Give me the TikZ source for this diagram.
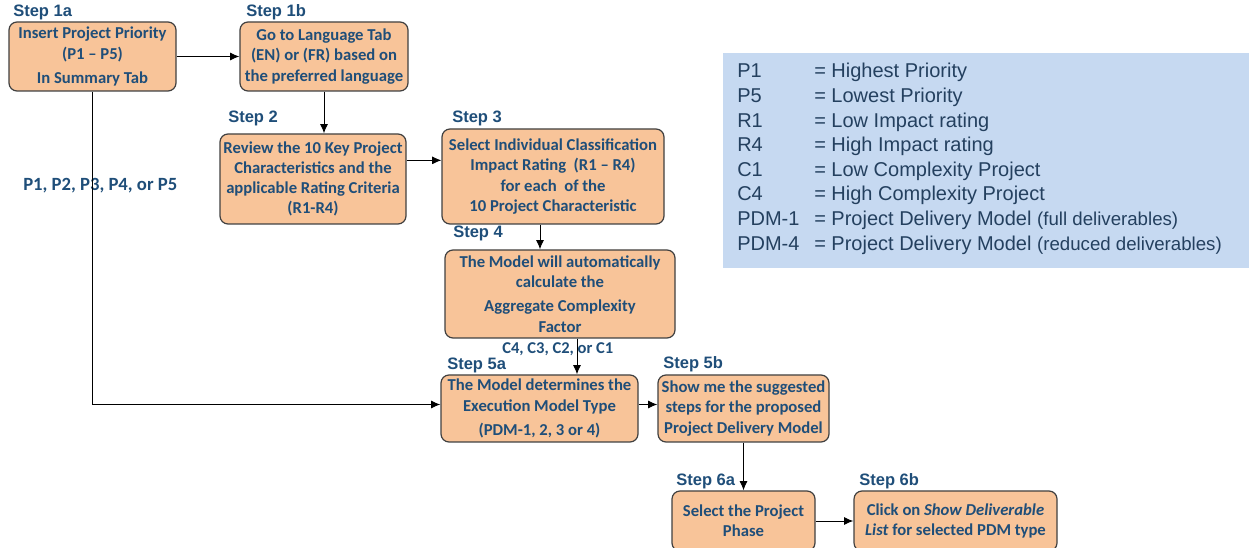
\documentclass[tikz,border=0pt]{standalone}
\usepackage{fontspec}
\usepackage{xcolor}
\usepackage{tikz}
\usetikzlibrary{arrows.meta}
\setmainfont{Carlito}
\newfontfamily\arialfont{Liberation Sans}
\definecolor{txtblue}{HTML}{1F4E79}
\definecolor{boxfill}{HTML}{F8C499}
\definecolor{legfill}{HTML}{C6D9F1}
\definecolor{legtxt}{HTML}{24405F}
\tikzset{
	stepbox/.style={draw=black!75, line width=0.9pt, fill=boxfill, rounded corners=6pt, align=center, text=txtblue, inner sep=2pt, font=\bfseries\fontsize{12.5}{15.2}\selectfont},
	steplbl/.style={anchor=base west, inner sep=0pt, text=txtblue, font=\arialfont\bfseries\fontsize{12.4}{15}\selectfont},
	flowlbl/.style={anchor=base west, inner sep=0pt, text=txtblue, font=\bfseries\fontsize{12.4}{15}\selectfont},
	legkey/.style={anchor=base west, inner sep=0pt, text=legtxt, font=\arialfont\fontsize{15}{17}\selectfont},
	arr/.style={line width=0.7pt, -{Latex[length=7pt,width=6pt]}}
}

\begin{document}
\begin{tikzpicture}[x=0.75pt,y=-0.75pt]
			\useasboundingbox (0,0) rectangle (1249,548);
			% Legend
			\node[fill=legfill, inner sep=0pt, anchor=north west, minimum width=400pt, minimum height=161.25pt] (legend) at (723,53) {};
			\foreach \key/\val [count=\i from 0] in {P1/= Highest Priority, P5/= Lowest Priority, R1/= Low Impact rating, R4/= High Impact rating, C1/= Low Complexity Project, C4/= High Complexity Project, PDM-1/{= Project Delivery Model {\fontsize{14}{15}\selectfont(full deliverables)}}, PDM-4/{= Project Delivery Model {\fontsize{14}{15}\selectfont(reduced deliverables)}}}
			{
				\node[legkey] (key\i) at (737,78+24.6*\i) {\key};
				\node[legkey] (val\i) at (814,78+24.6*\i) {\val};
			}
			% Steps
			\node[stepbox, minimum width=125.25pt, minimum height=51.75pt] (s1a) at (92.5,56.5) {Insert Project Priority\\(P1 – P5)\\[3pt]In Summary Tab};
			\node[stepbox, minimum width=126pt, minimum height=51.75pt] (s1b) at (324,56.5) {Go to Language Tab\\(EN) or (FR) based on\\the preferred language};
			\node[stepbox, minimum width=139.5pt, minimum height=67.5pt] (s2) at (313,179) {Review the 10 Key Project\\Characteristics and the\\applicable Rating Criteria\\(R1-R4)};
			\node[stepbox, minimum width=166.5pt, minimum height=71.25pt] (s3) at (553,176.5) {Select Individual Classification\\Impact Rating~~(R1 – R4)\\for each~~of the\\10 Project Characteristic};
			\node[stepbox, minimum width=172.5pt, minimum height=66pt] (s4) at (560,294) {The Model will automatically\\calculate the\\[3pt]Aggregate Complexity\\Factor};
			\node[stepbox, minimum width=147.75pt, minimum height=50.25pt] (s5a) at (539.5,408.5) {The Model determines the\\Execution Model Type\\[3pt](PDM-1, 2, 3 or 4)};
			\node[stepbox, minimum width=128.25pt, minimum height=50.25pt] (s5b) at (743.5,408.5) {Show me the suggested\\steps for the proposed\\Project Delivery Model};
			\node[stepbox, minimum width=107.25pt, minimum height=45pt] (s6a) at (743.5,521) {Select the Project\\Phase};
			\node[stepbox, minimum width=152.25pt, minimum height=45pt] (s6b) at (955.5,521) {Click on \textit{Show Deliverable}\\\textit{List} for selected PDM type};
			% Step labels
			\node[steplbl] (l1a) at (13,17) {Step 1a};
			\node[steplbl] (l1b) at (246,17) {Step 1b};
			\node[steplbl] (l2) at (228,123) {Step 2};
			\node[steplbl] (l3) at (452,123) {Step 3};
			\node[steplbl] (l4) at (453,238) {Step 4};
			\node[steplbl] (l5a) at (447,370) {Step 5a};
			\node[steplbl] (l5b) at (663,369) {Step 5b};
			\node[steplbl] (l6a) at (676,486) {Step 6a};
			\node[steplbl] (l6b) at (859,486) {Step 6b};
			\node[flowlbl, font=\bfseries\fontsize{14}{16}\selectfont] (prio) at (23,191) {P1, P2, P3, P4, or P5};
			\node[flowlbl] (cplx) at (502,354) {C4, C3, C2, or C1};
			% Arrows
			\coordinate (a23) at ([yshift=14pt]s2.east);
			\coordinate (a34) at ([xshift=-9.75pt]s3.south);
			\coordinate (a45) at ([xshift=12.75pt]s4.south);
			\draw[arr] (s1a) -- (s1b);
			\draw[arr] (s1b.south) -- (s1b.south |- s2.north);
			\draw[arr] (a23) -- (a23 -| s3.west);
			\draw[arr] (a34) -- (a34 |- s4.north);
			\draw[arr] (a45) -- (a45 |- s5a.north);
			\draw[arr] (s1a.south) |- ([yshift=3pt]s5a.west);
			\draw[arr] ([yshift=3pt]s5a.east) -- ([yshift=3pt]s5b.west);
			\draw[arr] (s5b) -- (s6a);
			\draw[arr] (s6a) -- (s6b);
		\end{tikzpicture}
\end{document}
